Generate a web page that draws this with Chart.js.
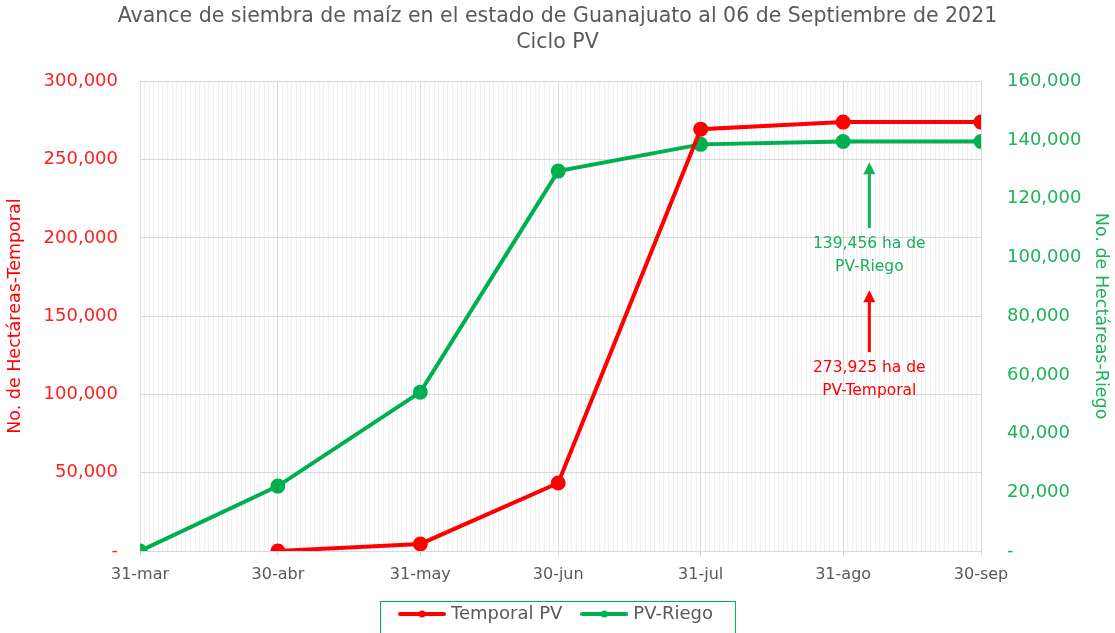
<!DOCTYPE html>
<html>
<head>
<meta charset="utf-8">
<script src="https://cdn.jsdelivr.net/npm/chart.js@4.4.0/dist/chart.umd.min.js"></script>
<style>
  html, body { margin: 0; padding: 0; background: #fff; }
  #wrap { width: 1115px; height: 633px; }
</style>
</head>
<body>
<div id="wrap"><canvas id="grafica" width="1115" height="633"></canvas></div>
<script>
// fechas de corte y dias desde el 31-mar
const fechas = ['31-mar', '30-abr', '31-may', '30-jun', '31-jul', '31-ago', '30-sep'];
const dias = [0, 30, 61, 91, 122, 153, 183];

// hectareas sembradas
const temporalDias = [30, 61, 91, 122, 153, 183];
const temporal = [0, 4500, 43400, 269400, 273925, 273925];
const riegoDias = [0, 30, 61, 91, 122, 153, 183];
const riego = [0, 22100, 54100, 129400, 138500, 139456, 139456];

const rojo = '#FF0000';
const verde = '#00B050';
const gris = '#595959';
const fuente = "'DejaVu Sans', sans-serif";

function puntos(xs, ys) {
  return xs.map((d, i) => ({ x: d, y: ys[i] }));
}

function formato(v) {
  if (v === 0) return '-';
  return v.toLocaleString('en-US');
}

// marcador de leyenda: linea con punto
function marcador(color) {
  const c = document.createElement('canvas');
  c.width = 48; c.height = 10;
  const g = c.getContext('2d');
  g.strokeStyle = color; g.lineWidth = 4; g.lineCap = 'round';
  g.beginPath(); g.moveTo(2, 5); g.lineTo(46, 5); g.stroke();
  g.fillStyle = color;
  g.beginPath(); g.arc(24, 5, 3.5, 0, Math.PI * 2); g.fill();
  return c;
}

const notas = [
  { x: 158.7, desde: 206200, hasta: 248300, color: '#17B05A', texto: ['139,456 ha de', 'PV-Riego'] },
  { x: 158.7, desde: 127000, hasta: 166600, color: rojo, texto: ['273,925 ha de', 'PV-Temporal'] }
];

const anotaciones = {
  id: 'anotaciones',
  afterDatasetsDraw(chart) {
    const ctx = chart.ctx;
    const sx = chart.scales.x, sy = chart.scales.y;
    ctx.save();
    notas.forEach(n => {
      const px = sx.getPixelForValue(n.x);
      const y0 = sy.getPixelForValue(n.desde);
      const y1 = sy.getPixelForValue(n.hasta);
      ctx.strokeStyle = n.color; ctx.fillStyle = n.color; ctx.lineWidth = 3;
      ctx.beginPath(); ctx.moveTo(px, y0); ctx.lineTo(px, y1 + 10); ctx.stroke();
      ctx.beginPath(); ctx.moveTo(px, y1); ctx.lineTo(px - 6, y1 + 12); ctx.lineTo(px + 6, y1 + 12); ctx.closePath(); ctx.fill();
      ctx.font = '15.5px ' + fuente;
      ctx.textAlign = 'center'; ctx.textBaseline = 'middle';
      n.texto.forEach((t, i) => ctx.fillText(t, px, y0 + 16 + i * 23));
    });
    ctx.restore();
  }
};

const marcoLeyenda = {
  id: 'marcoLeyenda',
  afterDraw(chart) {
    const cajas = chart.legend.legendHitBoxes;
    if (!cajas || !cajas.length) return;
    const izq = Math.min(...cajas.map(b => b.left)) - 22;
    const der = Math.max(...cajas.map(b => b.left + b.width)) + 22;
    const arriba = 601;
    const ctx = chart.ctx;
    ctx.save();
    ctx.strokeStyle = verde; ctx.lineWidth = 1;
    ctx.strokeRect(Math.round(izq) + 0.5, arriba + 0.5, der - izq, 60);
    ctx.restore();
  }
};

new Chart(document.getElementById('grafica'), {
  type: 'line',
  data: {
    datasets: [
      {
        label: 'Temporal PV',
        data: puntos(temporalDias, temporal),
        borderColor: rojo, backgroundColor: rojo,
        borderWidth: 4, pointRadius: 5.5, pointHoverRadius: 5.5,
        yAxisID: 'y', tension: 0
      },
      {
        label: 'PV-Riego',
        data: puntos(riegoDias, riego),
        borderColor: verde, backgroundColor: verde,
        borderWidth: 4, pointRadius: 5.5, pointHoverRadius: 5.5,
        yAxisID: 'y2', tension: 0
      }
    ]
  },
  options: {
    responsive: false,
    animation: false,
    layout: { padding: { left: 0, right: 0, top: 0, bottom: 0 } },
    plugins: {
      title: {
        display: true,
        text: ['Avance de siembra de maíz en el estado de Guanajuato al 06 de Septiembre de 2021', 'Ciclo PV'],
        color: gris,
        font: { family: fuente, size: 20.5, weight: 'normal', lineHeight: 1.25 },
        padding: { top: 4, bottom: 26 }
      },
      legend: {
        position: 'bottom',
        labels: {
          usePointStyle: true,
          pointStyleWidth: 40,
          generateLabels(chart) {
            return chart.data.datasets.map((d, i) => ({
              text: d.label,
              pointStyle: marcador(d.borderColor),
              fontColor: gris,
              strokeStyle: d.borderColor,
              fillStyle: d.borderColor,
              lineWidth: 0,
              datasetIndex: i
            }));
          },
          color: gris,
          font: { family: fuente, size: 18 },
          padding: 22,
          boxWidth: 40
        }
      },
      tooltip: { enabled: false }
    },
    scales: {
      x: {
        type: 'linear',
        min: 0, max: 183,
        afterBuildTicks(scale) { scale.ticks = dias.map(d => ({ value: d })); },
        afterFit(scale) { scale.height = 32; },
        ticks: {
          autoSkip: false, maxRotation: 0, color: gris, padding: 9,
          font: { family: fuente, size: 16 },
          callback(v) { const i = dias.indexOf(v); return i >= 0 ? fechas[i] : ''; }
        },
        grid: { color: '#D9D9D9', tickLength: 5, lineWidth: 1 },
        border: { color: '#D9D9D9' }
      },
      xMenor: {
        type: 'linear',
        position: 'bottom',
        min: 0, max: 183,
        afterBuildTicks(scale) {
          const t = [];
          for (let d = 0; d <= 183; d++) if (dias.indexOf(d) < 0) t.push({ value: d });
          scale.ticks = t;
        },
        afterFit(scale) { scale.height = 0; },
        ticks: { display: false },
        grid: { color: '#F0F0F0', drawTicks: false, lineWidth: 1 },
        border: { display: false }
      },
      y: {
        position: 'left',
        min: 0, max: 300000,
        ticks: {
          stepSize: 50000, color: '#FF2020', padding: 22,
          font: { family: fuente, size: 18 },
          callback: v => formato(v)
        },
        afterFit(scale) { scale.width = 140; },
        grid: { color: '#D9D9D9', drawTicks: false },
        border: { display: false },
        title: {
          display: true, text: 'No. de Hectáreas-Temporal', color: rojo,
          font: { family: fuente, size: 17.5 }, padding: { top: 5, bottom: 0 }
        }
      },
      y2: {
        position: 'right',
        min: 0, max: 160000,
        ticks: {
          stepSize: 20000, color: '#1DB35A', padding: 26,
          font: { family: fuente, size: 18 },
          callback: v => formato(v)
        },
        afterFit(scale) { scale.width = 134; },
        grid: { display: false, drawTicks: false },
        border: { display: false },
        title: {
          display: true, text: 'No. de Hectáreas-Riego', color: '#1DB35A',
          font: { family: fuente, size: 17.5 }, padding: { top: 4, bottom: 6 }
        }
      }
    }
  },
  plugins: [anotaciones, marcoLeyenda]
});
</script>
</body>
</html>
